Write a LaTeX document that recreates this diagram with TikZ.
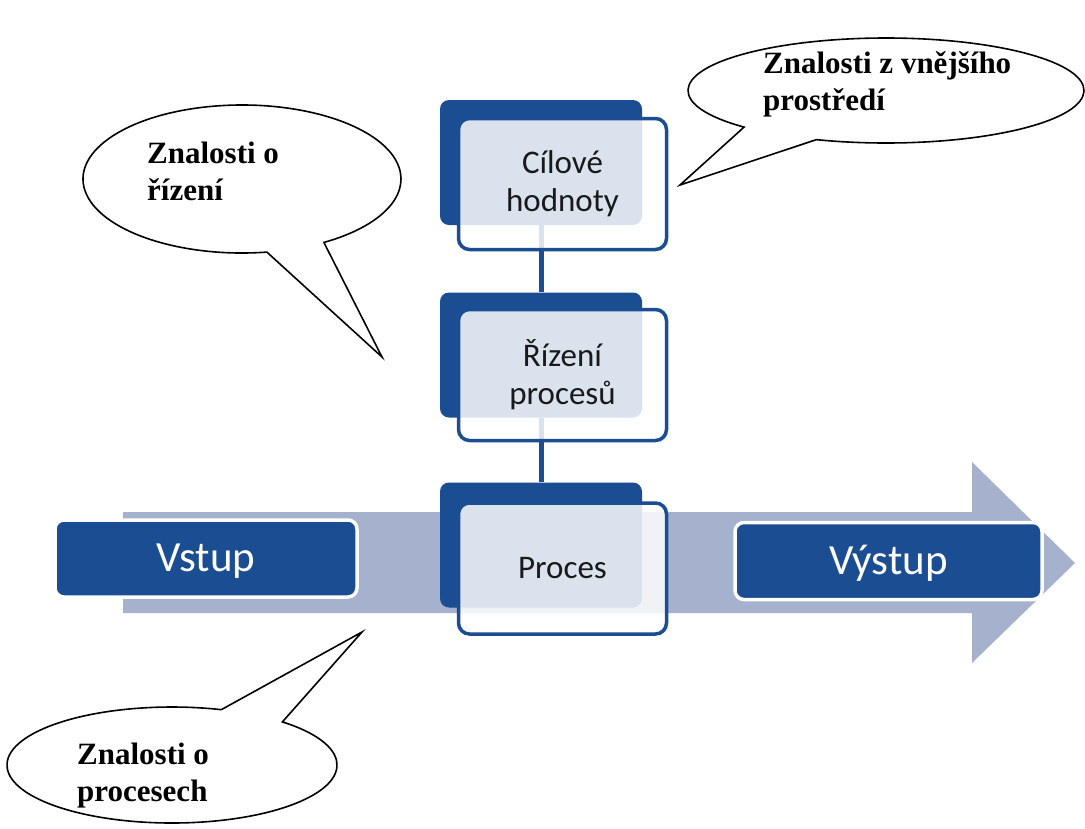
\documentclass[tikz,border=0pt]{standalone}
\usepackage{fontspec}
\setmainfont{Carlito}
\newfontfamily\notefont{Liberation Serif}
\usetikzlibrary{backgrounds,calc}
\definecolor{deepblue}{RGB}{26,77,146}
\definecolor{flowgray}{RGB}{166,177,205}
\definecolor{boxtext}{RGB}{25,25,25}
\tikzset{
  backcard/.style={fill=deepblue, rounded corners=9pt, minimum width=202pt,
    minimum height=125pt, inner sep=0pt},
  frontcard/.style={draw=deepblue, line width=3.5pt, fill=white, fill opacity=0.84,
    text opacity=1, rounded corners=11pt, minimum width=208pt, minimum height=131pt,
    inner sep=0pt, align=center, text=boxtext, font=\fontsize{33}{38}\selectfont},
  endbox/.style={fill=deepblue, draw=white, line width=3.5pt, rounded corners=9pt,
    minimum width=302pt, minimum height=77pt, text=white, text height=26pt,
    text depth=0pt, font=\fontsize{43}{50}\selectfont},
  link/.style={draw=deepblue, line width=5pt},
  bubble/.style={draw=black, line width=1.6pt, fill=white, line join=miter},
  notetext/.style={anchor=base west, align=left, inner sep=0pt,
    font=\notefont\bfseries\fontsize{31}{37}\selectfont},
}
\begin{document}
\begin{tikzpicture}[x=1pt,y=-1pt]
\useasboundingbox (0,0) rectangle (1085,828);

% broad flow arrow behind the chain
\fill[flowgray] (123,512) -- (972,512) -- (972,462) -- (1075,563)
  -- (972,663) -- (972,613) -- (123,613) -- cycle;

% stacked cards
\node[backcard] (goalback) at (541,162.5) {};
\node[frontcard] (goal) at (562.5,184) {Cílové\\hodnoty};
\node[backcard] (ctrlback) at (541,355) {};
\node[frontcard] (ctrl) at (562.5,375) {Řízení\\procesů};
\node[backcard] (procback) at (541,545) {};
\node[frontcard] (proc) at (562.5,568.5) {Proces};

\begin{pgfonlayer}{background}
  \draw[link] (goalback) -- (ctrlback);
  \draw[link] (ctrlback) -- (procback);
\end{pgfonlayer}

% input and output
\node[endbox] (in) at (206,558.5) {Vstup};
\node[endbox, minimum width=307pt] (out) at (888.5,561) {Výstup};

% speech bubbles (multi-line labels are anchored at their last baseline)
\coordinate (tl) at (242,179);
\coordinate (tltip) at (382,357);
\draw[bubble] (tltip) -- ($(tl)+(81:159 and 74)$)
  arc[start angle=81, end angle=419, x radius=159, y radius=74] -- cycle;
\node[notetext] (tlnote) at (147,200) {Znalosti o\\řízení};

\coordinate (tr) at (886,90.5);
\coordinate (trtip) at (680,185);
\draw[bubble] (trtip) -- ($(tr)+(135.8:198 and 52.5)$)
  arc[start angle=135.8, end angle=470.6, x radius=198, y radius=52.5] -- cycle;
\node[notetext] (trnote) at (763,110) {Znalosti z vnějšího\\prostředí};

\coordinate (bl) at (172,765);
\coordinate (bltip) at (362,632);
\draw[bubble] (bltip) -- ($(bl)+(312:165 and 58)$)
  arc[start angle=312, end angle=647.4, x radius=165, y radius=58] -- cycle;
\node[notetext] (blnote) at (77,801) {Znalosti o\\procesech};
\end{tikzpicture}
\end{document}
